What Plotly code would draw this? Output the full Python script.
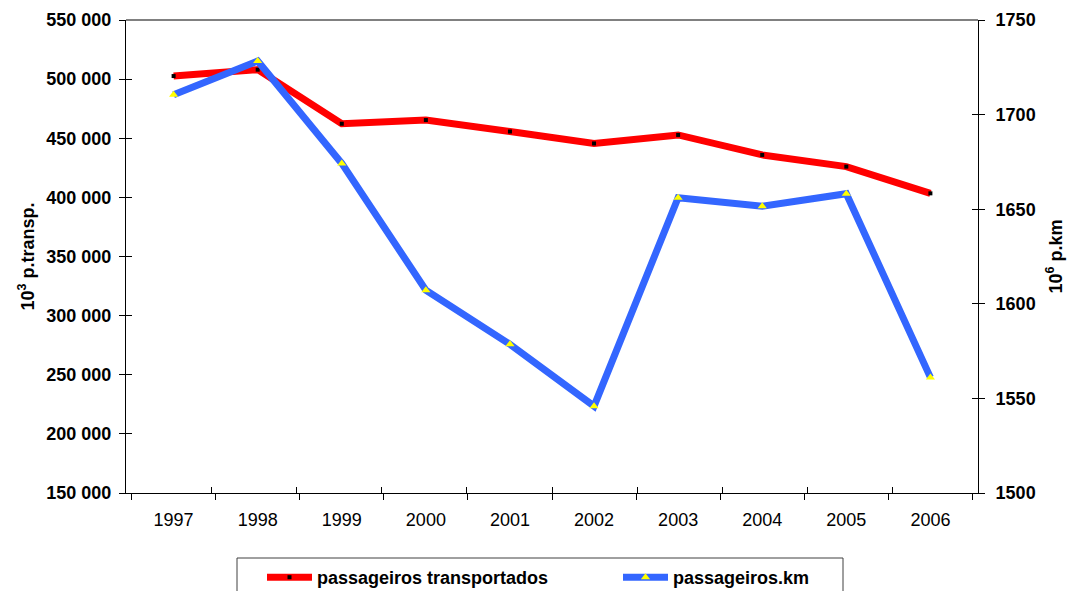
import plotly.graph_objects as go

# Annual figures
anos = ["1997", "1998", "1999", "2000", "2001", "2002", "2003", "2004", "2005", "2006"]
passageiros_transportados = [502600, 508000, 462300, 465400, 455700, 445600, 452800, 435900, 426000, 403400]
passageiros_km = [1710.5, 1728.3, 1674.2, 1607.2, 1578.6, 1545.9, 1656.1, 1651.6, 1658.2, 1561.1]

esq_ticks = [150000, 200000, 250000, 300000, 350000, 400000, 450000, 500000, 550000]
dir_ticks = [1500, 1550, 1600, 1650, 1700, 1750]

FONT = "Liberation Sans, Arial, sans-serif"
fronteiras = [i - 0.5 for i in range(len(anos) + 1)]

fig = go.Figure()

fig.add_trace(go.Scatter(
    x=anos, y=passageiros_transportados, name="passageiros transportados",
    mode="lines+markers",
    line=dict(color="#FF0000", width=7),
    marker=dict(symbol="square", size=4, color="black"),
    yaxis="y",
))
fig.add_trace(go.Scatter(
    x=anos, y=passageiros_km, name="passageiros.km",
    mode="lines+markers",
    line=dict(color="#3366FF", width=7),
    marker=dict(symbol="triangle-up", size=8, color="#FFFF00"),
    yaxis="y2",
))
# empty helper traces so the inner tick axes get drawn
fig.add_trace(go.Scatter(x=[], y=[], xaxis="x2", yaxis="y3", showlegend=False, hoverinfo="skip"))
fig.add_trace(go.Scatter(x=[], y=[], xaxis="x2", yaxis="y4", showlegend=False, hoverinfo="skip"))

bold_tick = dict(family=FONT, size=18, color="black", weight="bold")

fig.update_layout(
    width=1068, height=591,
    margin=dict(l=126, r=90, t=20, b=98, autoexpand=False),
    paper_bgcolor="white", plot_bgcolor="white",
    separators=". ",
    showlegend=True,
    legend=dict(
        orientation="h", xref="container", yref="container",
        x=262 / 1068, xanchor="left", y=1 - 559 / 591, yanchor="top",
        font=dict(family=FONT, size=18, color="black", weight="bold"),
        bgcolor="rgba(0,0,0,0)", borderwidth=0,
        entrywidth=296, itemwidth=45,
    ),
    xaxis=dict(
        type="category", showgrid=False, zeroline=False, automargin=False,
        showline=True, linecolor="black", linewidth=1,
        ticks="outside", ticklen=6, tickcolor="black", tickwidth=1,
        tickson="boundaries",
        tickfont=dict(family=FONT, size=18, color="black"),
        ticklabelstandoff=10,
    ),
    xaxis2=dict(
        overlaying="x", anchor="y", range=[-0.5, len(anos) - 0.5], automargin=False,
        tickvals=fronteiras, ticks="inside", ticklen=6, tickcolor="black",
        showticklabels=False, showgrid=False, zeroline=False, showline=False,
    ),
    yaxis=dict(
        range=[150000, 550000], tickvals=esq_ticks, tickformat=",d",
        showgrid=False, zeroline=False, automargin=False,
        showline=True, linecolor="black", linewidth=1,
        ticks="outside", ticklen=6, tickcolor="black",
        tickfont=bold_tick, ticklabelstandoff=4,
        title=dict(text="10<sup>3</sup> p.transp.",
                   font=dict(family=FONT, size=18, color="black", weight="bold"),
                   standoff=7),
    ),
    yaxis2=dict(
        overlaying="y", side="right", anchor="x",
        range=[1500, 1750], tickvals=dir_ticks,
        showgrid=False, zeroline=False, automargin=False,
        showline=True, linecolor="black", linewidth=1,
        ticks="outside", ticklen=6, tickcolor="black",
        tickfont=bold_tick, ticklabelstandoff=7,
        title=dict(text="10<sup>6</sup> p.km",
                   font=dict(family=FONT, size=18, color="black", weight="bold"),
                   standoff=14),
    ),
    yaxis3=dict(
        overlaying="y", side="left", anchor="x2", automargin=False,
        range=[150000, 550000], tickvals=esq_ticks,
        ticks="inside", ticklen=6, tickcolor="black",
        showticklabels=False, showgrid=False, zeroline=False, showline=False,
    ),
    yaxis4=dict(
        overlaying="y", side="right", anchor="x2", automargin=False,
        range=[1500, 1750], tickvals=dir_ticks,
        ticks="inside", ticklen=6, tickcolor="black",
        showticklabels=False, showgrid=False, zeroline=False, showline=False,
    ),
    shapes=[
        # plot area top edge
        dict(type="line", xref="paper", yref="paper", x0=0, x1=1, y0=1, y1=1,
             line=dict(color="#808080", width=2), layer="below"),
        # legend frame
        dict(type="rect", xref="paper", yref="paper",
             x0=(237 - 126) / 852, x1=(843 - 126) / 852,
             y0=(493 - 610) / 473, y1=(493 - 558) / 473,
             line=dict(color="#404040", width=1), fillcolor="rgba(0,0,0,0)"),
    ],
)

fig.write_html("out.html")
